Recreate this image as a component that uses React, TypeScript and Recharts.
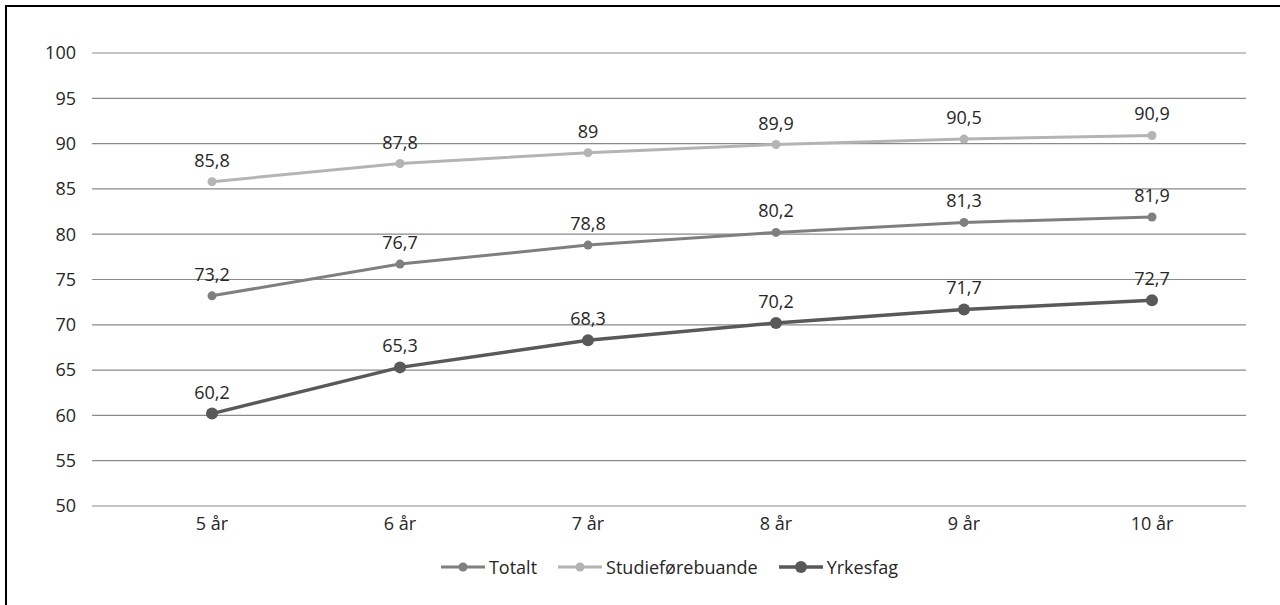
import React from "react";
import { LineChart, Line, XAxis, YAxis, CartesianGrid, LabelList } from "recharts";

const categories = ["5 år", "6 år", "7 år", "8 år", "9 år", "10 år"];
const totalt = [73.2, 76.7, 78.8, 80.2, 81.3, 81.9];
const studie = [85.8, 87.8, 89, 89.9, 90.5, 90.9];
const yrkesfag = [60.2, 65.3, 68.3, 70.2, 71.7, 72.7];
const yTicks = [50, 55, 60, 65, 70, 75, 80, 85, 90, 95, 100];

const seriesMeta = [
  { key: "totalt", name: "Totalt", color: "#7f7f7f", width: 3, r: 4.5 },
  { key: "studie", name: "Studieførebuande", color: "#b4b4b4", width: 3, r: 4.5 },
  { key: "yrkesfag", name: "Yrkesfag", color: "#595959", width: 3.5, r: 6 },
];

const data = categories.map((c, i) => ({
  cat: c,
  totalt: totalt[i],
  studie: studie[i],
  yrkesfag: yrkesfag[i],
}));

const FONT = "'Open Sans', 'Noto Sans', sans-serif";
const FS = 18;
const fmt = (v: any) => String(v).replace(".", ",");

export default function App() {
  return (
    <div style={{ position: "fixed", left: 0, top: 0, width: 1280, height: 605, overflow: "hidden", background: "#fff", fontFamily: FONT }}>
      <div style={{ position: "absolute", left: 5, top: 5, width: 1280, height: 700, borderTop: "2px solid #000", borderLeft: "2px solid #000" }} />
      <div style={{ position: "absolute", left: 0, top: 0 }}>
        <LineChart width={1280} height={605} data={data} margin={{ top: 53, right: 34, bottom: 69, left: 32 }}>
          <CartesianGrid vertical={false} stroke="#8a8a8a" strokeWidth={1.2} />
          <XAxis
            dataKey="cat"
            axisLine={false}
            tickLine={false}
            padding={{ left: 120, right: 94 }}
            height={30}
            tickMargin={5}
            tick={{ fill: "#262626", fontSize: FS, fontFamily: FONT }}
          />
          <YAxis
            domain={[50, 100]}
            ticks={yTicks}
            axisLine={false}
            tickLine={false}
            width={60}
            tickMargin={10}
            interval={0}
            tick={{ fill: "#262626", fontSize: FS, fontFamily: FONT }}
          />
          {seriesMeta.map((s) => (
            <Line
              key={s.key}
              dataKey={s.key}
              name={s.name}
              stroke={s.color}
              strokeWidth={s.width}
              isAnimationActive={false}
              dot={{ r: s.r, fill: s.color, stroke: s.color, strokeWidth: 0 }}
              activeDot={false}
            >
              <LabelList
                dataKey={s.key}
                position="top"
                offset={15}
                formatter={fmt}
                style={{ fill: "#262626", fontSize: FS, fontFamily: FONT }}
              />
            </Line>
          ))}
        </LineChart>
      </div>
      <div style={{ position: "absolute", left: 92, width: 1154, top: 554, height: 26, display: "flex", justifyContent: "center", alignItems: "center", fontSize: FS, color: "#262626" }}>
        {seriesMeta.map((s, i) => (
          <div key={s.key} style={{ display: "flex", alignItems: "center", marginLeft: i === 0 ? 0 : 20 }}>
            <svg width={46} height={14} style={{ marginRight: 3 }}>
              <line x1={1} y1={7} x2={45} y2={7} stroke={s.color} strokeWidth={s.width} />
              <circle cx={23} cy={7} r={s.r} fill={s.color} />
            </svg>
            <span>{s.name}</span>
          </div>
        ))}
      </div>
    </div>
  );
}
